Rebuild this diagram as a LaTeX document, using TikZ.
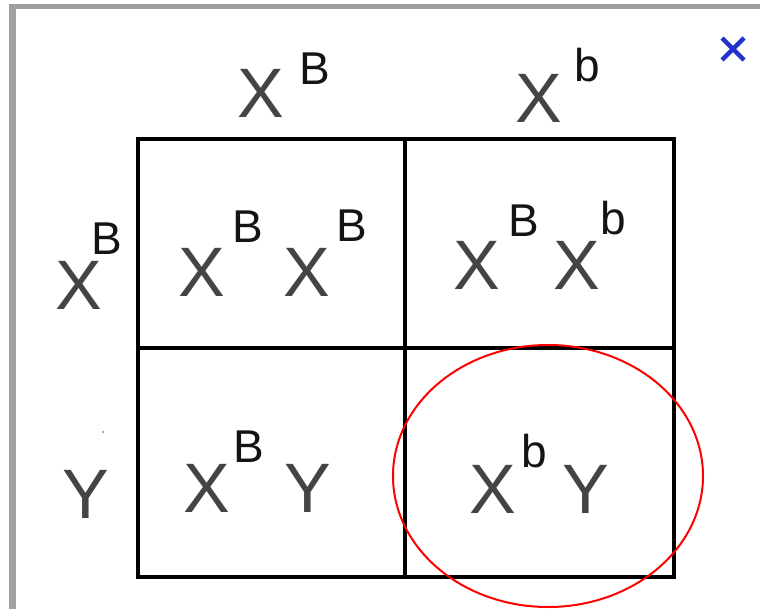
\documentclass[tikz,border=0pt]{standalone}
\usepackage{fontspec}
\setmainfont{Liberation Sans}
\usetikzlibrary{calc}
\definecolor{xgray}{RGB}{68,68,68}
\definecolor{supcol}{RGB}{20,20,20}
\definecolor{framegray}{RGB}{160,160,160}
\definecolor{closeblue}{RGB}{34,51,204}
\tikzset{
  bigl/.style={font=\fontsize{70}{70}\selectfont, text=xgray, anchor=base, inner sep=0pt},
  supl/.style={font=\fontsize{46}{46}\selectfont, text=supcol, anchor=base, inner sep=0pt},
  gridline/.style={line width=4pt, black},
}

\begin{document}
\begin{tikzpicture}[x=1pt, y=-1pt]
  % canvas 760 x 609, y runs downwards
  \useasboundingbox (0,0) rectangle (760,609);
  % window frame (top and left edge only)
  \fill[framegray] (9,4) rectangle (760,9);
  \fill[framegray] (9,4) rectangle (16,609);
  % close mark
  \draw[closeblue, line width=4.5pt] (722,38) -- (744,60) (744,38) -- (722,60);
  % punnett grid
  \draw[gridline] (137.5,139) rectangle (674,576.5);
  \draw[gridline] (405,139) -- (405,576.5);
  \draw[gridline] (137.5,348) -- (674,348);
  % big letters: centre x / baseline y / glyph
  \foreach \px/\py/\g [count=\i] in {260.5/118/X, 539/123/X,
      78.5/310/X, 86/518/Y,
      201.5/297/X, 306.5/297/X, 476.5/290/X, 576.5/290/X,
      206.5/512/X, 307.5/512/Y, 492.5/513/X, 585.5/513/Y}{
     \node[bigl] (big\i) at (\px,\py) {\g};}
  % superscripts
  \foreach \px/\py/\g [count=\i] in {315/85/B, 587/82/b, 107/255/B,
      247.5/243/B, 352/242/B, 524/237/B, 613.5/235/b,
      249/462/B, 534.5/467/b}{
     \node[supl] (sup\i) at (\px,\py) {\g};}
  % stray speck left of the Y row
  \fill[gray] (103,432) circle (1pt);
  % highlighted cell
  \draw[red, line width=2pt] (548,476) ellipse [x radius=155pt, y radius=131pt];
\end{tikzpicture}
\end{document}
